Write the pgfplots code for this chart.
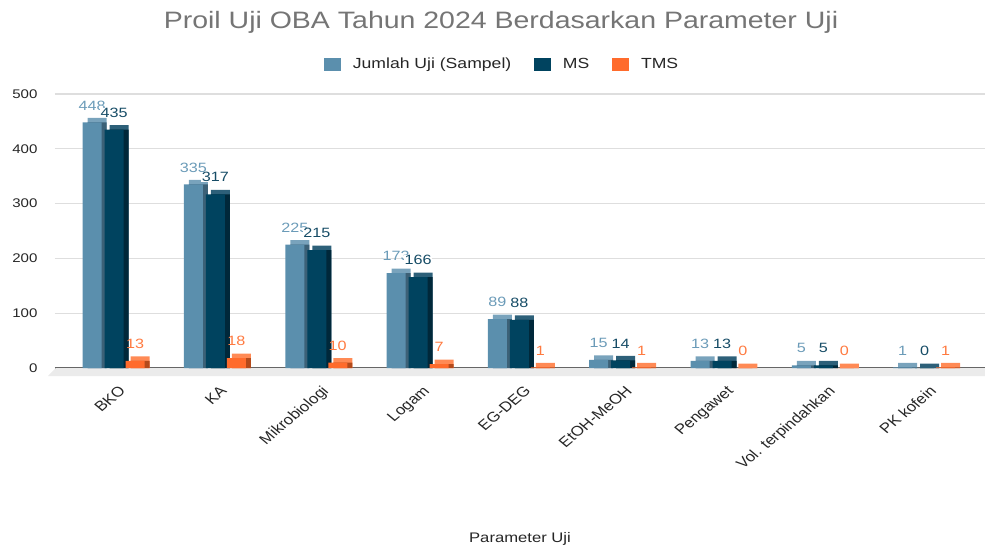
\documentclass[border=0pt]{standalone}
\usepackage{pgfplots}
\usepackage{pgfplotstable}
\usepackage{fontspec}
\pgfplotsset{compat=1.18}
\setmainfont{Liberation Sans}[FakeStretch=1.2]
\newfontfamily\plainfont{Liberation Sans}
\definecolor{jfront}{HTML}{5B8FAD}
\definecolor{jtop}{HTML}{79A3BC}
\definecolor{jside}{HTML}{3C6177}
\definecolor{mfront}{HTML}{00435F}
\definecolor{mtop}{HTML}{2D6079}
\definecolor{mside}{HTML}{00283A}
\definecolor{tfront}{HTML}{FF6B2C}
\definecolor{ttop}{HTML}{FF8A55}
\definecolor{tside}{HTML}{B34A1B}
\definecolor{jlab}{HTML}{6B9BB8}
\definecolor{mlab}{HTML}{164C66}
\definecolor{tlab}{HTML}{FF7A40}
\definecolor{titlegray}{HTML}{757575}
\definecolor{floorgray}{HTML}{EBEBEB}
\pgfplotstableread{
x j ms tms
0 448 435 13
1 335 317 18
2 225 215 10
3 173 166 7
4 89 88 1
5 15 14 1
6 13 13 0
7 5 5 0
8 1 0 1
}\data
\begin{document}
\begin{tikzpicture}
\useasboundingbox (-41.25pt,-128.25pt) rectangle (697.5pt,282pt);
\begin{axis}[
  scale only axis,
  width=697.5pt, height=211.5pt,
  xmin=-0.584, xmax=8.596,
  ymin=-14.6, ymax=500,
  clip=false,
  axis line style={draw=none},
  major tick length=0pt,
  ytick={0,100,...,500},
  xtick={0,...,8},
  xticklabels={BKO,KA,Mikrobiologi,Logam,EG-DEG,EtOH-MeOH,Pengawet,Vol. terpindahkan,PK kofein},
  /pgf/number format/assume math mode=true,
  yticklabel style={font=\fontsize{9.4}{11}\selectfont, color=black!85, anchor=east, inner sep=0pt, xshift=-13pt},
  xticklabel style={font=\plainfont\fontsize{10.5}{12}\selectfont, color=black!85, inner sep=0pt, xshift=3pt, yshift=-6.5pt, cm={0.8485,0.7071,-0.8485,0.7071,(0,0)}, anchor=north east},
  ymajorgrids,
  grid style={line width=1pt, color=black!13},
  extra y ticks={0},
  extra y tick labels={},
  extra y tick style={grid style={line width=0.8pt, color=black!60}},
  xlabel={Parameter Uji},
  xlabel style={font=\fontsize{10.4}{12}\selectfont, color=black!85, at={(rel axis cs:0.5,0)}, anchor=center, yshift=-122pt},
  title={Proil Uji OBA Tahun 2024 Berdasarkan Parameter Uji},
  title style={font=\fontsize{17.8}{20}\selectfont, color=titlegray, at={(rel axis cs:0.4796,1.227)}, anchor=center},
  legend columns=-1,
  legend style={draw=none, fill=none, at={(rel axis cs:0.4796,1.106)}, anchor=center,
    font=\fontsize{11}{13}\selectfont, text=black!85,
    nodes={inner sep=0pt},
    /tikz/every odd column/.append style={column sep=9pt},
    /tikz/every even column/.append style={column sep=17pt}},
  legend image code/.code={\fill[#1] (0pt,-4.9pt) rectangle (12.75pt,4.9pt);},
  nodes near coords style={font=\fontsize{10.1}{12}\selectfont, anchor=south, inner sep=0pt, yshift=9pt},
]
\fill[floorgray] ([xshift=-5.25pt]rel axis cs:0,0) -- (axis cs:-0.575,0) -- (axis cs:8.596,0) -- (rel axis cs:1,0) -- cycle;
% Jumlah Uji
\addplot[ybar, bar width=0.1875, bar shift=-0.217, fill=jtop, draw=none, xshift=3.75pt, forget plot] table[x=x, y expr=\thisrow{j}+8.2] {\data};
\addplot[ybar, bar width=0.1875, bar shift=-0.217, fill=jside, draw=none, xshift=3.75pt, forget plot] table[x=x, y=j] {\data};
\addplot[ybar, bar width=0.1875, bar shift=-0.217, fill=jfront, draw=none, nodes near coords, nodes near coords style={color=jlab, xshift=-16.5pt}] table[x=x, y=j] {\data};
% MS
\addplot[ybar, bar width=0.1875, bar shift=0, fill=mtop, draw=none, xshift=3.75pt, forget plot] table[x=x, y expr=\thisrow{ms}+8.2] {\data};
\addplot[ybar, bar width=0.1875, bar shift=0, fill=mside, draw=none, xshift=3.75pt, forget plot] table[x=x, y=ms] {\data};
\addplot[ybar, bar width=0.1875, bar shift=0, fill=mfront, draw=none, nodes near coords, nodes near coords style={color=mlab, fill=white, inner xsep=0.6pt}] table[x=x, y=ms] {\data};
% TMS
\addplot[ybar, bar width=0.1875, bar shift=0.207, fill=ttop, draw=none, xshift=3.75pt, forget plot] table[x=x, y expr=\thisrow{tms}+8.2] {\data};
\addplot[ybar, bar width=0.1875, bar shift=0.207, fill=tside, draw=none, xshift=3.75pt, forget plot] table[x=x, y=tms] {\data};
\addplot[ybar, bar width=0.1875, bar shift=0.207, fill=tfront, draw=none, nodes near coords, nodes near coords style={color=tlab, xshift=15.7pt}] table[x=x, y=tms] {\data};
\legend{Jumlah Uji (Sampel),MS,TMS}
\end{axis}
\end{tikzpicture}
\end{document}
